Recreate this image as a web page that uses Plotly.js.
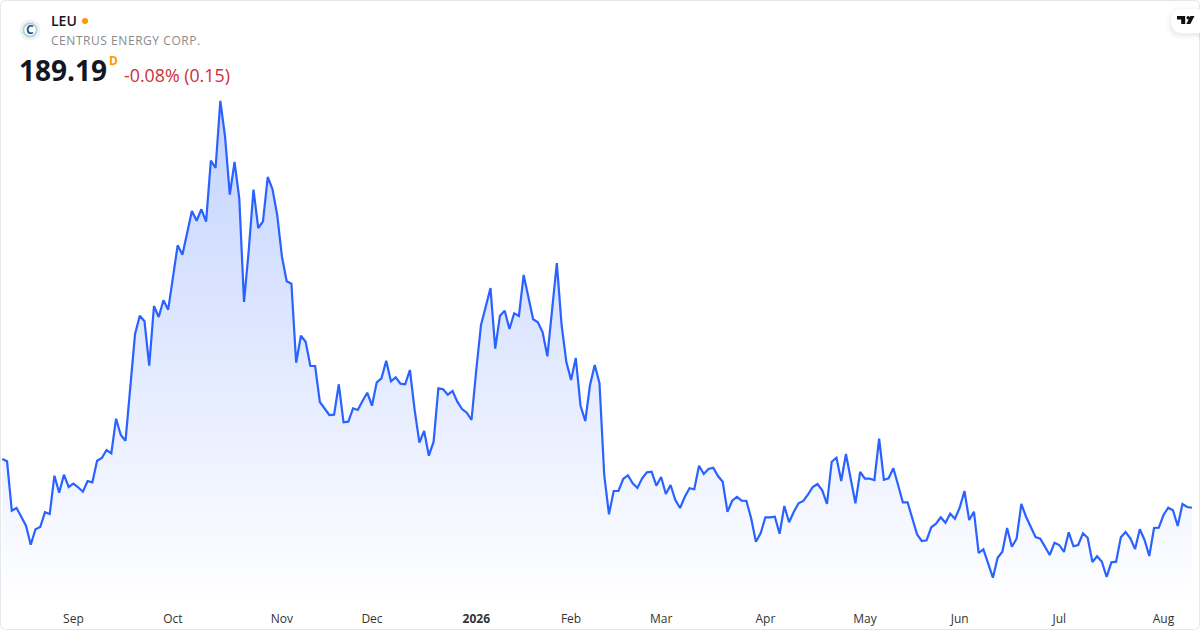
<!DOCTYPE html>
<html>
<head>
<meta charset="utf-8">
<script src="https://cdn.plot.ly/plotly-3.0.1.min.js"></script>
<style>
    body { margin: 0; background: #ffffff; }
    #chart { width: 1200px; height: 630px; }
    .annotation-text[data-unformatted^="CENTRUS"] { letter-spacing: 0.55px; }
</style>
</head>
<body>
<div id="chart"></div>
<script>
// daily closes, one per trading session
const close_prices = [
    223.3, 221.7, 187.1, 189.0, 182.9, 176.6, 163.3, 174.1, 175.7, 186.0, 184.8, 211.6,
    199.7, 212.3, 203.7, 206.0, 203.5, 200.4, 207.9, 207.0, 222.1, 224.0, 229.6, 227.3,
    251.5, 240.1, 236.1, 273.9, 310.6, 323.6, 319.7, 288.6, 330.4, 322.7, 334.4, 327.8,
    352.1, 372.9, 366.3, 381.3, 396.9, 390.1, 398.1, 389.4, 432.1, 427.0, 474.0, 448.9,
    408.3, 431.2, 405.8, 333.2, 369.6, 411.8, 385.0, 389.7, 420.7, 412.3, 394.1, 364.9,
    347.7, 346.0, 290.7, 309.6, 305.4, 288.4, 288.4, 263.2, 258.8, 254.1, 254.3, 275.6,
    249.0, 249.4, 258.8, 257.6, 263.9, 269.7, 260.6, 277.0, 279.8, 292.1, 277.7, 280.5,
    276.0, 275.6, 285.6, 257.6, 234.7, 242.9, 225.6, 235.4, 272.8, 272.1, 268.3, 270.9,
    263.4, 258.3, 255.7, 250.6, 285.6, 317.1, 329.9, 343.0, 300.5, 323.6, 327.1, 314.3,
    325.3, 323.4, 352.1, 335.8, 321.1, 319.0, 312.0, 295.2, 327.6, 360.4, 317.1, 291.4,
    278.6, 294.0, 260.6, 249.9, 275.1, 289.1, 276.3, 212.1, 184.6, 200.9, 200.9, 209.3,
    211.9, 206.3, 203.0, 209.8, 214.0, 214.4, 204.6, 210.7, 198.8, 205.1, 194.6, 189.0,
    196.9, 202.8, 202.1, 218.6, 212.8, 216.3, 217.2, 211.4, 207.4, 186.4, 194.1, 196.7,
    194.1, 193.9, 181.8, 165.4, 171.3, 182.5, 182.5, 182.9, 171.0, 190.4, 179.0, 186.4,
    192.3, 193.9, 198.6, 203.7, 205.8, 201.4, 191.8, 221.4, 224.2, 207.9, 226.8, 208.6,
    192.3, 214.2, 209.5, 209.5, 208.6, 237.5, 208.8, 209.8, 216.8, 205.1, 193.0, 193.0,
    181.8, 170.6, 165.9, 166.4, 175.5, 178.0, 182.5, 178.7, 185.0, 181.5, 189.2, 200.9,
    180.6, 186.4, 157.5, 160.1, 150.3, 140.2, 154.2, 158.4, 175.0, 161.9, 167.5, 191.8,
    182.9, 175.5, 168.7, 167.5, 161.9, 156.1, 164.7, 163.1, 158.2, 172.0, 162.2, 163.1,
    171.3, 168.2, 151.2, 155.2, 151.4, 140.7, 151.0, 151.4, 168.5, 172.2, 167.8, 160.3,
    174.1, 166.6, 155.4, 175.0, 175.2, 184.1, 189.2, 187.4, 176.4, 191.8, 189.7, 189.19
]

// session number of the first tick of each month
const month_sessions = [15, 36, 59, 78, 100, 120, 139, 161, 182, 202, 223, 245]
const month_labels = ["Sep", "Oct", "Nov", "Dec", "<b>2026</b>", "Feb", "Mar", "Apr", "May", "Jun", "Jul", "Aug"]

const ticker = "LEU"
const company = "CENTRUS ENERGY CORP."
const last_price = "189.19"
const last_change = "-0.08% (0.15)"

const page_width = 1200
const plot_height = 603
const text_font = "Open Sans, sans-serif"

// paper coordinates from page pixels, the plot takes the full width
function px(x) { return x / page_width }
function py(y) { return 1 - y / plot_height }

function path_from(points) {
    return points.map((p, i) => (i === 0 ? "M" : "L") + px(p[0]) + "," + py(p[1])).join(" ") + " Z"
}

function circle(cx, cy, r, fill, line) {
    return {
        type: "circle", xref: "paper", yref: "paper", layer: "above",
        x0: px(cx - r), x1: px(cx + r), y0: py(cy + r), y1: py(cy - r),
        fillcolor: fill,
        line: line ? {color: line, width: 1.8} : {width: 0},
    }
}

function label(x, y, text, size, color, extra) {
    return Object.assign({
        xref: "paper", yref: "paper", x: px(x), y: py(y),
        xanchor: "left", yanchor: "middle", showarrow: false,
        text: text, borderpad: 0,
        font: {family: text_font, size: size, color: color},
    }, extra || {})
}

function rounded_frame() {
    let l = 0.5, r = 1199.5, t = 0.5, b = 629.5, c = 6
    let d = "M" + px(l + c) + "," + py(t) +
        " L" + px(r - c) + "," + py(t) + " Q" + px(r) + "," + py(t) + " " + px(r) + "," + py(t + c) +
        " L" + px(r) + "," + py(b - c) + " Q" + px(r) + "," + py(b) + " " + px(r - c) + "," + py(b) +
        " L" + px(l + c) + "," + py(b) + " Q" + px(l) + "," + py(b) + " " + px(l) + "," + py(b - c) +
        " L" + px(l) + "," + py(t + c) + " Q" + px(l) + "," + py(t) + " " + px(l + c) + "," + py(t) + " Z"
    return {type: "path", xref: "paper", yref: "paper", layer: "above", path: d, line: {color: "#e6e6e6", width: 1}}
}

function logo_pill(grow, drop, fill) {
    let l = 1171 - grow, r = 1200, t = 9 - grow + drop, b = 33 + grow + drop, c = 12 + grow
    let d = "M" + px(r) + "," + py(t) + " L" + px(l + c) + "," + py(t) +
        " Q" + px(l) + "," + py(t) + " " + px(l) + "," + py(t + c) +
        " Q" + px(l) + "," + py(b) + " " + px(l + c) + "," + py(b) +
        " L" + px(r) + "," + py(b) + " Z"
    return {type: "path", xref: "paper", yref: "paper", layer: "above", path: d, fillcolor: fill, line: {width: 0}}
}

const tv_fill = {xref: "paper", yref: "paper", layer: "above", type: "path", fillcolor: "#0f0f0f", line: {width: 0}}

const shapes = [
    rounded_frame(),
    logo_pill(5, 2, "rgba(0,0,0,0.012)"),
    logo_pill(3, 2, "rgba(0,0,0,0.02)"),
    logo_pill(1, 2, "rgba(0,0,0,0.03)"),
    logo_pill(0, 0, "#ffffff"),
    Object.assign({}, tv_fill, {path: path_from([[1177, 16], [1185.2, 16], [1185.2, 24], [1181.2, 24], [1181.2, 19.4], [1177, 19.4]])}),
    circle(1188.2, 17.7, 1.7, "#0f0f0f"),
    Object.assign({}, tv_fill, {path: path_from([[1190.5, 16], [1194.5, 16], [1190.3, 24], [1186.3, 24]])}),
    circle(30, 30, 10.5, "#edf1fa"),
    circle(30, 30, 6.6, "#ffffff", "#b4d3bf"),
    circle(85, 21, 3, "#ff9800"),
]

const annotations = [
    label(50, 21, ticker, 14, "#131722", {font: {family: text_font, size: 14, color: "#131722", weight: 600}}),
    label(50, 40.5, company, 12, "#8a8a8a"),
    label(17.5, 70.5, "<b>" + last_price + "</b>", 28, "#131722"),
    label(107.5, 61, "<b>D</b>", 12, "#ff9800"),
    label(123, 75, last_change, 17.8, "#cc2f3c"),
    label(30, 30, "<b>C</b>", 12, "#1f4fa0", {xanchor: "center"}),
]

const sessions = close_prices.map((_, i) => i)

const trace = {
    x: sessions,
    y: close_prices,
    type: "scatter",
    mode: "lines",
    line: {color: "#2962ff", width: 2.2, shape: "linear"},
    fill: "tozeroy",
    fillgradient: {
        type: "vertical",
        start: 122.5,
        stop: 474,
        colorscale: [[0, "rgba(41,98,255,0.0)"], [1, "rgba(41,98,255,0.28)"]],
    },
    hoverinfo: "skip",
}

const layout = {
    width: page_width,
    height: 630,
    margin: {l: 0, r: 0, t: 0, b: 27, pad: 0},
    paper_bgcolor: "#ffffff",
    plot_bgcolor: "#ffffff",
    showlegend: false,
    xaxis: {
        range: [-0.486, 252.7],
        tickmode: "array",
        tickvals: month_sessions,
        ticktext: month_labels,
        tickfont: {family: text_font, size: 12, color: "#333333"},
        ticks: "outside",
        ticklen: 5,
        tickcolor: "rgba(0,0,0,0)",
        showgrid: false,
        zeroline: false,
        showline: false,
    },
    yaxis: {
        range: [122.5, 544.6],
        visible: false,
        showgrid: false,
        zeroline: false,
    },
    shapes: shapes,
    annotations: annotations,
}

Plotly.newPlot("chart", [trace], layout, {staticPlot: true})
</script>
</body>
</html>
